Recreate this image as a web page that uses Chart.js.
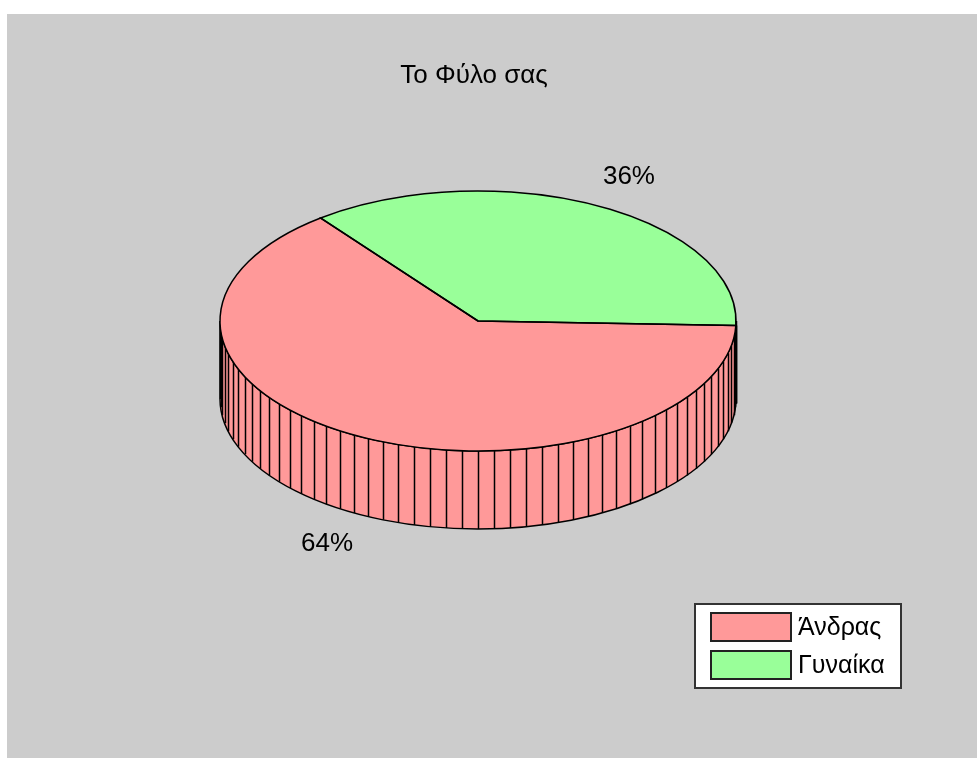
<!DOCTYPE html>
<html lang="el">
<head>
    <meta charset="UTF-8">
    <title>Το Φύλο σας</title>
    <script src="https://cdn.jsdelivr.net/npm/chart.js"></script>
    <style>
        body { margin: 0; background: #fff; }
        .panel { position: absolute; left: 7px; top: 14px; width: 970px; height: 744px; background: #cccccc; }
    </style>
</head>
<body>
    <div class="panel">
        <canvas id="myChart" width="970" height="744"></canvas>
    </div>

    <script>
        // Chart data
        const chartTitle = 'Το Φύλο σας';
        const labels = ['Άνδρας', 'Γυναίκα'];
        const shares = [64, 36];
        const colors = ['#ff9999', '#99ff99'];

        const FONT = '26px "Liberation Sans", Arial, sans-serif';
        const LEGEND_FONT = '25px "Liberation Sans", Arial, sans-serif';

        // parts of an arc that lie on the front (lower) half of the pie
        function frontParts(s, e) {
            const parts = [];
            for (let k = -1; k <= 2; k++) {
                const a = Math.max(s, 2 * Math.PI * k);
                const b = Math.min(e, 2 * Math.PI * k + Math.PI);
                if (b > a) parts.push([a, b]);
            }
            return parts;
        }

        // Draws the pie tilted, with a side wall, labels, title and legend
        const pie3d = {
            id: 'pie3d',
            beforeDatasetsDraw(chart, args, opts) {
                const ctx = chart.ctx;
                const arcs = chart.getDatasetMeta(0).data;
                const step = opts.step * Math.PI / 180;

                arcs.forEach((arc, i) => {
                    const { x, y, startAngle, endAngle, outerRadius } = arc;
                    const rx = outerRadius, ry = outerRadius * opts.tilt;
                    frontParts(startAngle, endAngle).forEach(([a, b]) => {
                        ctx.save();
                        ctx.beginPath();
                        ctx.ellipse(x, y, rx, ry, 0, a, b);
                        ctx.lineTo(x + rx * Math.cos(b), y + ry * Math.sin(b) + opts.depth);
                        ctx.ellipse(x, y + opts.depth, rx, ry, 0, b, a, true);
                        ctx.closePath();
                        ctx.fillStyle = arc.options.backgroundColor;
                        ctx.fill();
                        ctx.strokeStyle = '#000';
                        ctx.lineWidth = opts.lineWidth;
                        ctx.stroke();

                        // vertical ribs
                        const angles = [a, b];
                        for (let t = Math.ceil(a / step) * step; t < b; t += step) angles.push(t);
                        ctx.beginPath();
                        angles.forEach(t => {
                            const px = Math.round(x + rx * Math.cos(t)) + 0.5;
                            const py = y + ry * Math.sin(t);
                            ctx.moveTo(px, py);
                            ctx.lineTo(px, py + opts.depth);
                        });
                        ctx.stroke();
                        ctx.restore();
                    });
                });

                // squash the top face into an ellipse
                const c = arcs[0];
                ctx.save();
                ctx.translate(c.x, c.y);
                ctx.scale(1, opts.tilt);
                ctx.translate(-c.x, -c.y);
            },
            afterDatasetsDraw(chart, args, opts) {
                const ctx = chart.ctx;
                ctx.restore();

                const meta = chart.getDatasetMeta(0);
                const values = chart.data.datasets[0].data;
                const total = values.reduce((s, v) => s + v, 0);

                ctx.save();
                ctx.strokeStyle = '#000';
                ctx.lineWidth = opts.lineWidth;
                meta.data.forEach((arc, i) => {
                    const { x, y, startAngle, endAngle, outerRadius } = arc;
                    const rx = outerRadius, ry = outerRadius * opts.tilt;
                    ctx.beginPath();
                    ctx.moveTo(x, y);
                    ctx.ellipse(x, y, rx, ry, 0, startAngle, endAngle);
                    ctx.closePath();
                    ctx.stroke();

                    // percentage label outside the slice
                    const mid = (startAngle + endAngle) / 2;
                    const lx = x + rx * 1.28 * Math.cos(mid);
                    let ly = y + ry * 1.25 * Math.sin(mid);
                    if (Math.sin(mid) > 0) ly += opts.depth;
                    ctx.font = FONT;
                    ctx.fillStyle = '#000';
                    ctx.textAlign = 'center';
                    ctx.textBaseline = 'middle';
                    ctx.fillText(Math.round(values[i] / total * 100) + '%', lx, ly);
                });
                ctx.restore();
            },
            afterDraw(chart, args, opts) {
                const ctx = chart.ctx;
                ctx.save();
                ctx.font = FONT;
                ctx.fillStyle = '#000';
                ctx.textAlign = 'center';
                ctx.textBaseline = 'alphabetic';
                ctx.fillText(opts.title, opts.titleX, opts.titleY);

                // legend box
                const lg = opts.legend;
                ctx.fillStyle = '#fff';
                ctx.fillRect(lg.x, lg.y, lg.w, lg.h);
                ctx.strokeStyle = '#333';
                ctx.lineWidth = 2;
                ctx.strokeRect(lg.x, lg.y, lg.w, lg.h);
                ctx.font = LEGEND_FONT;
                chart.data.labels.forEach((label, i) => {
                    const top = lg.y + lg.pad + i * lg.row;
                    ctx.fillStyle = chart.data.datasets[0].backgroundColor[i];
                    ctx.fillRect(lg.x + 16, top, 80, 28);
                    ctx.strokeStyle = '#222';
                    ctx.strokeRect(lg.x + 16, top, 80, 28);
                    ctx.fillStyle = '#000';
                    ctx.textAlign = 'left';
                    ctx.fillText(label, lg.x + 103, top + 22);
                });
                ctx.restore();
            }
        };

        const ctx = document.getElementById('myChart').getContext('2d');
        window.myChart = new Chart(ctx, {
            type: 'pie',
            data: {
                labels: labels,
                datasets: [{
                    data: shares,
                    backgroundColor: colors,
                    borderWidth: 0,
                    radius: 258
                }]
            },
            options: {
                responsive: false,
                animation: false,
                events: [],
                rotation: 92,
                layout: { padding: { left: 0, right: 28, top: 0, bottom: 130 } },
                plugins: {
                    legend: { display: false },
                    tooltip: { enabled: false },
                    title: { display: false },
                    pie3d: {
                        tilt: 130 / 258,
                        depth: 78,
                        step: 3.6,
                        lineWidth: 1.5,
                        title: chartTitle,
                        titleX: 467,
                        titleY: 69,
                        legend: { x: 688, y: 590, w: 206, h: 84, pad: 9, row: 38 }
                    }
                }
            },
            plugins: [pie3d]
        });
    </script>
</body>
</html>
